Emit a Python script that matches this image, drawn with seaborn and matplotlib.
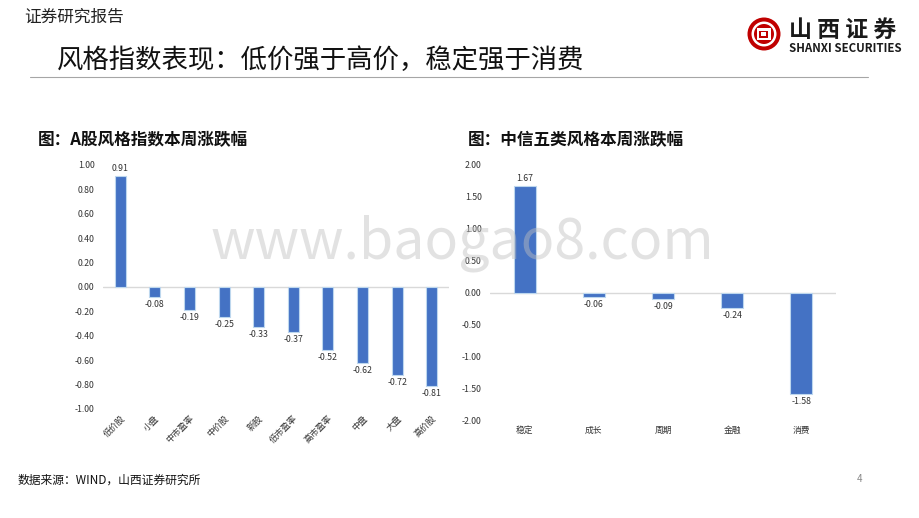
import numpy as np
import pandas as pd
import seaborn as sns
import matplotlib.pyplot as plt
from matplotlib.ticker import FuncFormatter
from matplotlib.patches import Ellipse, Rectangle
from matplotlib.lines import Line2D

# A股风格指数本周涨跌幅
styles_a = ['低价股', '小盘', '中市盈率', '中价股', '新股', '低市盈率', '高市盈率', '中盘', '大盘', '高价股']
chg_a = [0.91, -0.08, -0.19, -0.25, -0.33, -0.37, -0.52, -0.62, -0.72, -0.81]

# 中信五类风格本周涨跌幅
styles_citic = ['稳定', '成长', '周期', '金融', '消费']
chg_citic = [1.67, -0.06, -0.09, -0.24, -1.58]

sns.set_style("white")
plt.rcParams['font.family'] = ['Noto Sans CJK SC', 'DejaVu Sans']

BLUE = '#4472C4'
RED = '#C00000'
W, H = 920, 518

fig = plt.figure(figsize=(9.2, 5.18), dpi=100)


def fx(px):
    return px / W


def fy(py):
    return 1 - py / H


def draw_bars(ax, cats, vals, ylim, step, rot):
    df = pd.DataFrame({'cat': cats, 'val': vals})
    sns.barplot(data=df, x='cat', y='val', color=BLUE, width=0.32,
                edgecolor='#BDD7EE', linewidth=0.8, saturation=1, ax=ax)
    ax.set_ylim(*ylim)
    ax.set_yticks(np.arange(ylim[0], ylim[1] + step / 2, step))
    ax.yaxis.set_major_formatter(FuncFormatter(lambda v, p: f'{v:.2f}'.replace('-0.00', '0.00')))
    ax.axhline(0, color='#D9D9D9', lw=1, zorder=0)
    for s in ax.spines.values():
        s.set_visible(False)
    ax.tick_params(axis='both', length=0, labelsize=6.3, colors='#333333')
    ax.tick_params(axis='y', pad=6)
    ax.set_xlabel('')
    ax.set_ylabel('')
    if rot:
        plt.setp(ax.get_xticklabels(), rotation=45, ha='right', rotation_mode='anchor')
    off = (ylim[1] - ylim[0]) * 0.012
    for i, v in enumerate(vals):
        if v >= 0:
            ax.text(i, v + off, f'{v:.2f}', ha='center', va='bottom', fontsize=6.3, color='#333333')
        else:
            ax.text(i, v - off, f'{v:.2f}', ha='center', va='top', fontsize=6.3, color='#333333')


# left chart
ax1 = fig.add_axes([fx(103), fy(409), fx(346), (409 - 165) / H])
draw_bars(ax1, styles_a, chg_a, (-1.0, 1.0), 0.2, True)

# right chart
ax2 = fig.add_axes([fx(490), fy(421), fx(346), (421 - 165) / H])
draw_bars(ax2, styles_citic, chg_citic, (-2.0, 2.0), 0.5, False)

# header
fig.text(fx(24), fy(17), '证券研究报告', fontsize=12, va='center', ha='left', color='#222222')
fig.text(fx(57), fy(60), '风格指数表现：低价强于高价，稳定强于消费', fontsize=19, va='center',
         ha='left', color='#111111', fontweight='medium')
fig.add_artist(Line2D([fx(30), fx(868)], [fy(77), fy(77)], color='#A6A6A6', lw=0.8))

# logo
cx, cy = 764, 34


def ell(d, color):
    fig.add_artist(Ellipse((fx(cx), fy(cy)), d / W, d / H, transform=fig.transFigure,
                           facecolor=color, edgecolor='none'))


def box(w, h, color):
    fig.add_artist(Rectangle((fx(cx - w / 2), fy(cy + h / 2)), w / W, h / H,
                             transform=fig.transFigure, facecolor=color, edgecolor='none'))


ell(33, RED)
ell(25, 'white')
ell(20, RED)
box(14, 12, 'white')
box(9, 7, RED)
box(5, 3.5, 'white')

fig.text(fx(789), fy(30), '山 西 证 券', fontsize=16.5, fontweight='bold', va='center', ha='left',
         color='#1A1A1A')
fig.text(fx(789), fy(49), 'SHANXI SECURITIES', fontsize=8.3, fontweight='bold', va='center',
         ha='left', color='#1A1A1A')

# chart titles
fig.text(fx(38), fy(140), '图：A股风格指数本周涨跌幅', fontsize=12, va='center', ha='left',
         color='#111111', fontweight='bold')
fig.text(fx(468), fy(140), '图：中信五类风格本周涨跌幅', fontsize=12, va='center', ha='left',
         color='#111111', fontweight='bold')

# watermark
fig.text(fx(462), fy(243), 'www.baogao8.com', fontsize=40, va='center', ha='center',
         color='#BFBFBF', alpha=0.45, zorder=10)

# footer
fig.text(fx(18), fy(480), '数据来源：WIND，山西证券研究所', fontsize=8.5, va='center', ha='left',
         color='#111111')
fig.text(fx(860), fy(479), '4', fontsize=7, va='center', ha='center', color='#888888')

fig.savefig('out.png', dpi=100)
